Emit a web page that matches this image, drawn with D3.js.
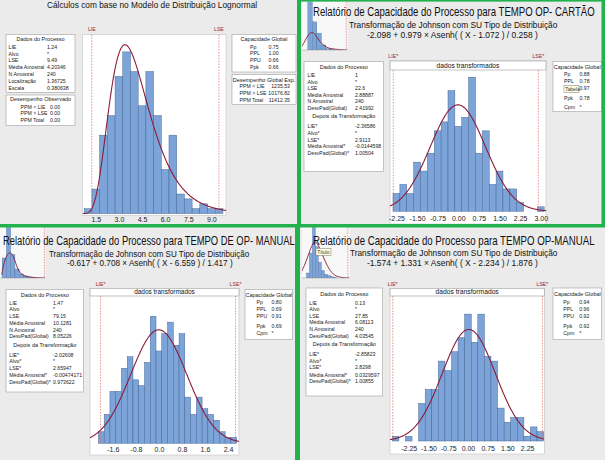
<!DOCTYPE html>
<html><head><meta charset="utf-8">
<script src="https://cdn.jsdelivr.net/npm/d3@7"></script>
<style>
body{margin:0;background:#fff}
svg{display:block}
text{font-family:"Liberation Sans",Arial,sans-serif}
</style>
</head><body>
<script>
// ===================== DATA =====================
// Panel 1 – Lognormal model
const p1Title = "Cálculos com base no Modelo de Distribuição Lognormal";
const p1Centers = [1.0,1.5,2.0,2.5,3.0,3.5,4.0,4.5,5.0,5.5,6.0,6.5,7.0,7.5,8.0,8.5,9.0,9.5];
const p1Counts  = [1,5,16,20,28,33,29,22,29,20,9,16,4,3,1,2,1,1];
const p1Ticks = [1.5,3.0,4.5,6.0,7.5,9.0];
const p1Specs = [{name:"LIE",value:1.24},{name:"LSE",value:9.49}];
const p1Fit = {loc:1.36725, scale:0.380638, n:240};
const p1Dados = [["LIE","1.24"],["Alvo","*"],["LSE","9.49"],["Média Amostral","4.20346"],["N Amostral","240"],["Localização","1.36725"],["Escala","0.380638"]];
const p1Observado = [["PPM < LIE","0.00"],["PPM > LSE","0.00"],["PPM Total","0.00"]];
const p1Capacidade = [["Pp","0.75"],["PPL","1.00"],["PPU","0.66"],["Ppk","0.66"]];
const p1Esperado = [["PPM < LIE","1235.53"],["PPM > LSE","10176.82"],["PPM Total","11412.35"]];

// Panel 2 – TEMPO OP- CARTÃO
const p2Title = "Relatório de Capacidade do Processo para TEMPO OP- CARTÃO";
const p2Formula = "-2.098 + 0.979 × Asenh( ( X - 1.072 ) / 0.258 )";
const p2Centers = [-2.25,-2.0,-1.75,-1.5,-1.25,-1.0,-0.75,-0.5,-0.25,0,0.25,0.5,0.75,1.0,1.25,1.5,1.75,2.0,2.25,2.5,2.75,3.0];
const p2Counts  = [4,6,4,11,9,13,18,20,27,19,21,30,13,18,6,9,5,5,2,0,0,1];
const p2Ticks = [-2.25,-1.5,-0.75,0,0.75,1.5,2.25,3.0];
const p2Specs = [{name:"LIE*",value:-2.36586},{name:"LSE*",value:2.9113}];
const p2Fit = {mean:-0.0144598, sd:1.00504, n:240};
const p2Dados = [["LIE","1"],["Alvo","*"],["LSE","22.6"],["Média Amostral","2.88887"],["N Amostral","240"],["DesvPad(Global)","2.41992"],["Depois da Transformação"],["LIE*","-2.36586"],["Alvo*","*"],["LSE*","2.9113"],["Média Amostral*","-0.0144598"],["DesvPad(Global)*","1.00504"]];
// PPU label is hidden under the "Tabela" tooltip in the reference
const p2Capacidade = [["Pp","0.88"],["PPL","0.78"],["","0.97"],["Ppk","0.78"],["Cpm","*"]];
const p2ThumbCenters = [2.5,5,7.5,10,12.5,15];
const p2ThumbCounts  = [140,45,27,8,2,1];
const p2ThumbCurveX = [-2.2,-0.3,1.3,3.4,5.2,6.9,9.1,11.3,13.6,19.1,23];
const p2ThumbCurveY = [5.3,14.4,24,29.3,25.6,17.6,9.6,4.8,2.1,0.5,0];

// Panel 3 – TEMPO DE OP- MANUAL
const p3Title = "Relatório de Capacidade do Processo para TEMPO DE OP- MANUAL";
const p3Formula = "-0.617 + 0.708 × Asenh( ( X - 6.559 ) / 1.417 )";
const p3Centers = [-2.0,-1.8,-1.6,-1.4,-1.2,-1.0,-0.8,-0.6,-0.4,-0.2,0,0.2,0.4,0.6,0.8,1.0,1.2,1.4,1.6,1.8,2.0,2.2,2.4,2.6];
const p3Counts  = [2,5,9,9,13,15,11,10,14,22,16,19,21,17,19,8,5,8,6,5,4,2,1,1];
const p3Ticks = [-1.6,-0.8,0,0.8,1.6,2.4];
const p3Specs = [{name:"LIE*",value:-2.02608},{name:"LSE*",value:2.65947}];
const p3Fit = {mean:-0.00474171, sd:0.973622, n:240};
const p3Dados = [["LIE","1.47"],["Alvo","*"],["LSE","79.15"],["Média Amostral","10.1281"],["N Amostral","240"],["DesvPad(Global)","8.05226"],["Depois da Transformação"],["LIE*","-2.02608"],["Alvo*","*"],["LSE*","2.65947"],["Média Amostral*","-0.00474171"],["DesvPad(Global)*","0.973622"]];
const p3Capacidade = [["Pp","0.80"],["PPL","0.69"],["PPU","0.91"],["Ppk","0.69"],["Cpm","*"]];
const p3ThumbCenters = [4,12,20,28,36,44,52,60];
const p3ThumbCounts  = [40,120,47,18,8,4,2,1];
const p3ThumbCurveX = [-0.8,2.2,8.6,14.8,21,27.3,33.5,52.3,80];
const p3ThumbCurveY = [6.6,26,46,53.4,44,24,6.6,1,0];

// Panel 4 – TEMPO OP-MANUAL
const p4Title = "Relatório de Capacidade do Processo para TEMPO OP-MANUAL";
const p4Formula = "-1.574 + 1.331 × Asenh( ( X - 2.234 ) / 1.876 )";
const p4Centers = [-2.75,-2.5,-2.25,-2.0,-1.75,-1.5,-1.25,-1.0,-0.75,-0.5,-0.25,0,0.25,0.5,0.75,1.0,1.25,1.5,1.75,2.0,2.25,2.5,2.75];
const p4Counts  = [1,0,1,0,8,11,11,17,15,19,22,27,21,27,18,17,7,4,5,5,1,3,2];
const p4Ticks = [-2.25,-1.5,-0.75,0,0.75,1.5,2.25];
const p4Specs = [{name:"LIE*",value:-2.85823},{name:"LSE*",value:2.8298}];
const p4Fit = {mean:0.0329597, sd:1.00855, n:240};
const p4Dados = [["LIE","0.13"],["Alvo","*"],["LSE","27.85"],["Média Amostral","6.08113"],["N Amostral","240"],["DesvPad(Global)","4.03545"],["Depois da Transformação"],["LIE*","-2.85823"],["Alvo*","*"],["LSE*","2.8298"],["Média Amostral*","0.0329597"],["DesvPad(Global)*","1.00855"]];
const p4Capacidade = [["Pp","0.94"],["PPL","0.96"],["PPU","0.92"],["Ppk","0.92"],["Cpm","*"]];
const p4ThumbCenters = [1,3,5,7,9,11,13,15,17,19];
const p4ThumbCounts  = [8,40,90,50,25,12,6,4,2,1];
const p4ThumbCurveX = [-3.2,-0.3,2.4,4.4,5.8,7.8,10.5,13.9,17.9,22.6,28.7];
const p4ThumbCurveY = [10.7,25.6,44.8,56,58.7,54.4,38.4,19.2,4.8,0.8,0];

const subtitle = "Transformação de Johnson com SU Tipo de Distribuição";

// ===================== STYLE =====================
const GREEN="#22b14c", PANEL_BG="#ebebeb", BAR_FILL="#7ca4d8", BAR_STROKE="#41618f",
      CURVE="#8a1c3a", SPEC="#d9534f", SPEC_TXT="#9b2335", TXT="#222";
const NARROW='"Liberation Sans Narrow","Liberation Sans",Arial,sans-serif';
const TITLE_SIZE = 13, SUB_SIZE = 9.4, FORM_SIZE = 9.8;
const loc = d3.formatLocale({decimal:".",thousands:",",grouping:[3],currency:["",""],minus:"-"});

const svg = d3.select("body").append("svg").attr("width",605).attr("height",460);
const defs = svg.append("defs");
let clipId = 0;
function clip(x,y,w,h){ const id="c"+(clipId++); defs.append("clipPath").attr("id",id).append("rect").attr("x",x).attr("y",y).attr("width",w).attr("height",h); return `url(#${id})`; }

// panel backgrounds
[[0,0,297,225],[300,0,305,225],[0,226,296,234],[300,226,305,234]].forEach(r=>
  svg.append("rect").attr("x",r[0]).attr("y",r[1]).attr("width",r[2]).attr("height",r[3]).attr("fill",PANEL_BG));

function normalPdf(x,m,s){ return Math.exp(-0.5*((x-m)/s)**2)/(s*Math.sqrt(2*Math.PI)); }
function lognPdf(x,mu,s){ return x<=0?0:Math.exp(-((Math.log(x)-mu)**2)/(2*s*s))/(x*s*Math.sqrt(2*Math.PI)); }

// text squeezed horizontally to a given width (condensed look of the reference)
function fitText(parent,txt,x0,width,yb,size,opts={}){
  const t = parent.append("text").attr("x",0).attr("y",0).attr("font-size",size)
    .attr("fill",opts.fill||"#111").attr("font-family",opts.family||NARROW).text(txt);
  const w = t.node().getComputedTextLength() || width;
  t.attr("transform",`translate(${x0},${yb}) scale(${width/w},1)`);
  return t;
}

function drawHist(c){
  const g = svg.append("g");
  const x = d3.scaleLinear().domain(c.xDomain).range([c.left,c.right]);
  const y = d3.scaleLinear().domain([0,c.yMax]).range([c.base,c.plotTop]);
  const top = c.headerTop!==undefined ? c.headerTop : c.plotTop;
  g.append("rect").attr("x",c.left).attr("y",top).attr("width",c.right-c.left).attr("height",c.frameBottom-top)
    .attr("fill","#fff").attr("stroke","#c4c4c4").attr("stroke-width",0.6);
  if(c.header){
    g.append("rect").attr("x",c.left).attr("y",c.headerTop).attr("width",c.right-c.left).attr("height",c.plotTop-c.headerTop)
      .attr("fill","#fff").attr("stroke","#a8a8a8").attr("stroke-width",0.7);
    fitText(g,c.header,(c.left+c.right)/2-c.headerLen/2,c.headerLen,c.plotTop-1.6,7.6);
  }
  const inner = g.append("g").attr("clip-path",clip(c.left,c.plotTop,c.right-c.left,c.base+1-c.plotTop));
  inner.selectAll("rect.bar").data(c.centers.map((d,i)=>({c:d,n:c.counts[i]})).filter(d=>d.n>0))
    .enter().append("rect").attr("class","bar")
    .attr("x",d=>x(d.c-c.bw/2)).attr("width",d=>x(d.c+c.bw/2)-x(d.c-c.bw/2))
    .attr("y",d=>y(d.n)).attr("height",d=>c.base-y(d.n))
    .attr("fill",BAR_FILL).attr("stroke",BAR_STROKE).attr("stroke-width",0.45);
  const xs = d3.range(c.xDomain[0],c.xDomain[1]+0.001,(c.xDomain[1]-c.xDomain[0])/300);
  const line = d3.line().x(d=>x(d)).y(d=>y(c.curve(d)));
  inner.append("path").datum(xs).attr("d",line).attr("fill","none").attr("stroke",CURVE).attr("stroke-width",1.1);
  c.specs.forEach(s=>{
    g.append("line").attr("x1",x(s.value)).attr("x2",x(s.value)).attr("y1",c.plotTop).attr("y2",c.base)
      .attr("stroke",SPEC).attr("stroke-width",0.6).attr("stroke-dasharray","1.6,1.3");
    g.append("text").attr("x",x(s.value)).attr("y",c.specLabelY).attr("text-anchor","middle")
      .attr("font-size",5.2).attr("fill",SPEC_TXT).attr("font-family",'"Liberation Serif",serif').text(s.name);
  });
  const ax = d3.axisBottom(x).tickValues(c.ticks).tickFormat(loc.format(c.fmt)).tickSize(0).tickPadding(c.pad);
  const ag = g.append("g").attr("transform",`translate(0,${c.base})`).call(ax)
    .attr("font-size",7).attr("font-family",NARROW);
  ag.select(".domain").remove();
  ag.selectAll("text").attr("fill",TXT);
}

function drawBox(b){
  const g = svg.append("g");
  g.append("rect").attr("x",b.x0).attr("y",b.y0).attr("width",b.x1-b.x0).attr("height",b.y1-b.y0)
    .attr("fill","#fff").attr("stroke","#a0a0a0").attr("stroke-width",0.6);
  g.append("text").attr("x",(b.x0+b.x1)/2).attr("y",b.titleY).attr("text-anchor","middle")
    .attr("font-size",5.5).attr("fill",TXT).text(b.title);
  b.rows.forEach((r,i)=>{
    const yy = b.rowY[i];
    if(r.length===1){
      g.append("text").attr("x",(b.x0+b.x1)/2).attr("y",yy).attr("text-anchor","middle").attr("font-size",5.5).attr("fill",TXT).text(r[0]);
    } else {
      if(r[0]) g.append("text").attr("x",b.labelX).attr("y",yy).attr("font-size",5.2).attr("fill",TXT).text(r[0]);
      g.append("text").attr("x",b.valueX).attr("y",yy).attr("text-anchor",b.valueAnchor||"start").attr("font-size",5.2).attr("fill",TXT).text(r[1]);
    }
  });
}

function drawThumb(t){
  const g = svg.append("g");
  g.append("rect").attr("x",t.x0).attr("y",t.y0).attr("width",t.x1-t.x0).attr("height",t.y1-t.y0).attr("fill","#f8f8f8");
  const x = d3.scaleLinear().domain(t.xDomain).range([t.x0,t.x1]);
  const y = d3.scaleLinear().domain([0,t.yMax]).range([t.y1,t.y1-50]);
  const inner = g.append("g").attr("clip-path",clip(t.x0,t.y0,t.x1-t.x0,t.y1-t.y0));
  inner.selectAll("rect").data(t.centers.map((d,i)=>({c:d,n:t.counts[i]}))).enter().append("rect")
    .attr("x",d=>x(d.c-t.bw/2)).attr("width",d=>x(d.c+t.bw/2)-x(d.c-t.bw/2))
    .attr("y",d=>y(d.n)).attr("height",d=>t.y1-y(d.n))
    .attr("fill",BAR_FILL).attr("stroke",BAR_STROKE).attr("stroke-width",0.3);
  inner.append("path").datum(t.cx.map((d,i)=>[d,t.cy[i]]))
    .attr("d",d3.line().x(d=>x(d[0])).y(d=>y(d[1])).curve(d3.curveBasis))
    .attr("fill","none").attr("stroke",CURVE).attr("stroke-width",0.9);
  inner.append("line").attr("x1",x(t.lse)).attr("x2",x(t.lse)).attr("y1",t.y0).attr("y2",t.y1)
    .attr("stroke",SPEC).attr("stroke-width",0.6).attr("stroke-dasharray","1.5,1.2");
  g.append("line").attr("x1",t.x0).attr("x2",t.x1).attr("y1",t.y1).attr("y2",t.y1).attr("stroke","#999").attr("stroke-width",0.5);
}

function tooltip(txt,x,y){
  svg.append("rect").attr("x",x).attr("y",y).attr("width",15).attr("height",7).attr("fill","#ffffe1").attr("stroke","#777").attr("stroke-width",0.5);
  svg.append("text").attr("x",x+1.2).attr("y",y+5.3).attr("font-size",4.9).attr("fill","#333").text(txt);
}

// ===================== PANEL 1 =====================
fitText(svg,p1Title,47,210,8.3,8.2);
drawHist({left:82.7,right:226,xDomain:[0.65,9.95],plotTop:34.5,base:213.6,frameBottom:215.5,yMax:(213.6-34.5)/4.9,pad:3.3,
  centers:p1Centers,counts:p1Counts,bw:0.5,ticks:p1Ticks,fmt:".1f",specs:p1Specs,specLabelY:31,
  curve:v=>p1Fit.n*0.5*lognPdf(v,p1Fit.loc,p1Fit.scale)});
drawBox({x0:6,y0:34.5,x1:75,y1:92.5,title:"Dados do Processo",titleY:41.3,rows:p1Dados,
  rowY:[48.7,55.5,62.3,69.1,75.9,82.7,89.5],labelX:8.5,valueX:47});
drawBox({x0:6,y0:95,x1:75,y1:125.5,title:"Desempenho Observado",titleY:101.3,rows:p1Observado,
  rowY:[108.5,115.2,121.9],labelX:20.5,valueX:50});
drawBox({x0:232,y0:34.5,x1:296,y1:72,title:"Capacidade Global",titleY:41.3,rows:p1Capacidade,
  rowY:[48.7,55.3,62,69],labelX:250,valueX:268.5});
drawBox({x0:232,y0:74.5,x1:296,y1:104.5,title:"Desempenho Global Esp.",titleY:81.5,rows:p1Esperado,
  rowY:[88.2,94.9,101.6],labelX:239.5,valueX:290,valueAnchor:"end"});

// ===================== PANEL 2 =====================
drawThumb({x0:302,y0:1.5,x1:347.5,y1:50,xDomain:[-2,23.3],yMax:80,centers:p2ThumbCenters,counts:p2ThumbCounts,bw:2.5,
  cx:p2ThumbCurveX,cy:p2ThumbCurveY,lse:22.6});
fitText(svg,p2Title,313,282,16.4,TITLE_SIZE);
fitText(svg,subtitle,349,208,28,SUB_SIZE);
fitText(svg,p2Formula,367,171,38,FORM_SIZE);
drawHist({left:390,right:546,xDomain:[-2.485,3.191],headerTop:61,plotTop:70,base:211.3,frameBottom:224,yMax:(211.3-70)/4.47,pad:4.6,
  header:"dados transformados",headerLen:63,
  centers:p2Centers,counts:p2Counts,bw:0.25,ticks:p2Ticks,fmt:".2f",specs:p2Specs,specLabelY:58.3,
  curve:v=>p2Fit.n*0.25*normalPdf(v,p2Fit.mean,p2Fit.sd)});
drawBox({x0:304,y0:61.5,x1:383.5,y1:171.5,title:"Dados do Processo",titleY:68.8,rows:p2Dados,
  rowY:[77.3,83.8,90.3,96.8,103.3,109.8,118.2,128,134.8,141.6,148.4,155.2],labelX:307.5,valueX:355});
drawBox({x0:553,y0:61.5,x1:601.5,y1:111.7,title:"Capacidade Global",titleY:68.8,rows:p2Capacidade,
  rowY:[76,83,90.3,99.7,108.5],labelX:564,valueX:579.5});
tooltip("Tabela",564,85.5);

// ===================== PANEL 3 =====================
drawThumb({x0:0,y0:227,x1:45.5,y1:278,xDomain:[-4,81.3],yMax:100,centers:p3ThumbCenters,counts:p3ThumbCounts,bw:8,
  cx:p3ThumbCurveX,cy:p3ThumbCurveY,lse:79.15});
fitText(svg,p3Title,3,292,245,TITLE_SIZE);
fitText(svg,subtitle,49,200,256.6,SUB_SIZE);
fitText(svg,p3Formula,67,166,266.2,FORM_SIZE);
drawHist({left:90,right:239,xDomain:[-2.392,2.781],headerTop:288.3,plotTop:296,base:443.3,frameBottom:455,yMax:(443.3-296)/5.77,pad:4.2,
  header:"dados transformados",headerLen:60.7,
  centers:p3Centers,counts:p3Counts,bw:0.2,ticks:p3Ticks,fmt:".1f",specs:p3Specs,specLabelY:285.8,
  curve:v=>p3Fit.n*0.2*normalPdf(v,p3Fit.mean,p3Fit.sd)});
drawBox({x0:6,y0:289.5,x1:83.5,y1:392,title:"Dados do Processo",titleY:296.5,rows:p3Dados,
  rowY:[305,311.3,318,324.8,331.5,338.2,346.6,356.5,363.2,370.2,377.3,384],labelX:9.3,valueX:53});
drawBox({x0:245,y0:289.5,x1:292.7,y1:339.5,title:"Capacidade Global",titleY:296.5,rows:p3Capacidade,
  rowY:[304,311,318.3,327.5,335],labelX:256.5,valueX:271.5});

// ===================== PANEL 4 =====================
drawThumb({x0:302,y0:227,x1:350,y1:278,xDomain:[-3,29.3],yMax:80,centers:p4ThumbCenters,counts:p4ThumbCounts,bw:2,
  cx:p4ThumbCurveX,cy:p4ThumbCurveY,lse:27.85});
fitText(svg,p4Title,313,282,244.5,TITLE_SIZE);
fitText(svg,subtitle,350,207,255.8,SUB_SIZE);
fitText(svg,p4Formula,367,171,266,FORM_SIZE);
tooltip("Título",316,248.3);
drawHist({left:390,right:544.3,xDomain:[-2.962,2.901],headerTop:288.3,plotTop:296,base:441,frameBottom:454,yMax:(441-296)/4.7,pad:4.8,
  header:"dados transformados",headerLen:63.3,
  centers:p4Centers,counts:p4Counts,bw:0.25,ticks:p4Ticks,fmt:".2f",specs:p4Specs,specLabelY:285.8,
  curve:v=>p4Fit.n*0.25*normalPdf(v,p4Fit.mean,p4Fit.sd)});
drawBox({x0:306,y0:288,x1:382.7,y1:396,title:"Dados do Processo",titleY:295.5,rows:p4Dados,
  rowY:[305,311,317.7,324.3,331,337.7,346,356,362.7,369.3,376.7,383.3],labelX:309.3,valueX:355});
drawBox({x0:553,y0:288,x1:601.7,y1:339.5,title:"Capacidade Global",titleY:295.5,rows:p4Capacidade,
  rowY:[304,311,318.3,327.7,335],labelX:563.3,valueX:579.3});

// ===================== GREEN FRAME LINES =====================
[[297,0,4,227],[0,224,605,3.5],[295,227,5,233],[297,0,308,1.6],[601.5,0,3.5,227]].forEach(r=>
  svg.append("rect").attr("x",r[0]).attr("y",r[1]).attr("width",r[2]).attr("height",r[3]).attr("fill",GREEN));
</script>
</body></html>
